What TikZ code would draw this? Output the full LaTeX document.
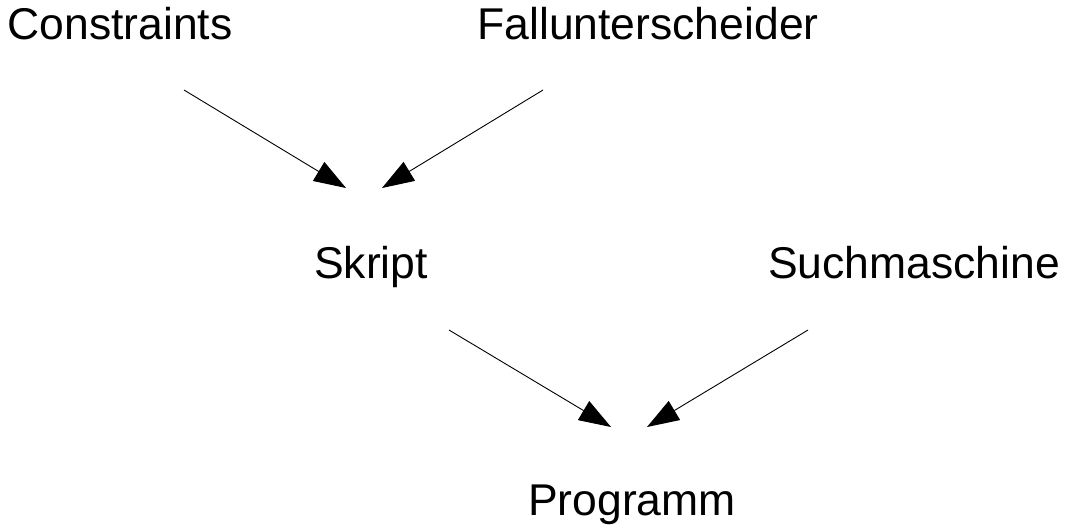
\documentclass[tikz,border=0pt]{standalone}
\usepackage{fontspec}
\setmainfont{Liberation Sans}
\usetikzlibrary{arrows.meta,positioning}
\tikzset{
    wortsty/.style={inner sep=0pt,anchor=base,font=\fontsize{44.5}{50}\selectfont},
    pfeilsty/.style={-{Triangle[length=32pt,width=22pt]},line width=0.9pt},
}

\begin{document}
\begin{tikzpicture}[x=1pt,y=-1pt]
\useasboundingbox (0,0) rectangle (1068,528);

\node (constr) [wortsty] at (120,39) {Constraints};
\node (fallu) [wortsty] at (648,39) {Fallunterscheider};
\node (skript) [wortsty] at (371,278) {Skript};
\node (suchm) [wortsty] at (914,278) {Suchmaschine};
\node (progr) [wortsty] at (632,515) {Programm};

\coordinate (constr-aus) at (184,90);
\coordinate (fallu-aus) at (543,90);
\coordinate (skript-ein1) at (346,188);
\coordinate (skript-ein2) at (382,188);
\coordinate (skript-aus) at (449,330);
\coordinate (suchm-aus) at (808,330);
\coordinate (progr-ein1) at (611,427);
\coordinate (progr-ein2) at (647,427);

\draw [pfeilsty] (constr-aus) -- (skript-ein1);
\draw [pfeilsty] (fallu-aus) -- (skript-ein2);
\draw [pfeilsty] (skript-aus) -- (progr-ein1);
\draw [pfeilsty] (suchm-aus) -- (progr-ein2);

\end{tikzpicture}
\end{document}
